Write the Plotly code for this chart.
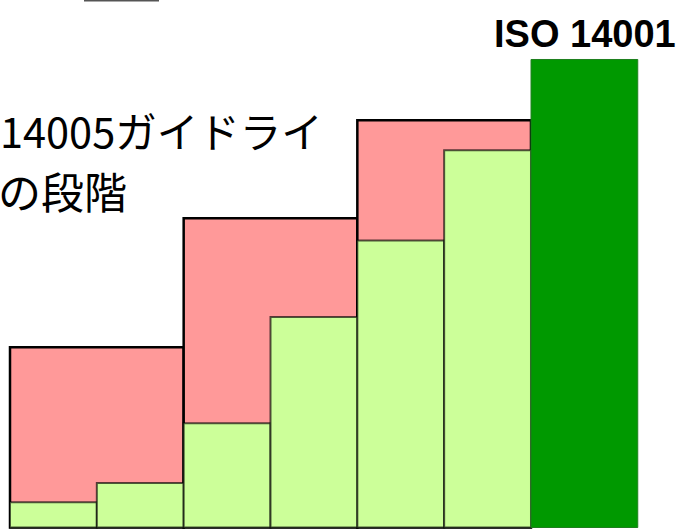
import plotly.graph_objects as go

# ---- data ----
step_x = [0, 1, 2, 3, 4, 5]                      # ISO 14005 phases (light green steps)
step_values = [5.4, 9.5, 22.3, 45.0, 61.3, 80.6]
group_x = [0.5, 2.5, 4.5]                         # grouped stages (red boxes)
group_values = [38.5, 66.1, 87.0]
iso_x = [6.115]
iso_values = [100.0]
iso_label = "ISO 14001"
text_line1 = "14005ガイドライ"
text_line2 = "の段階"

W, H = 676, 529

fig = go.Figure()

fig.add_trace(go.Bar(
    x=group_x, y=group_values, width=[2, 2, 2],
    marker=dict(color="#FF9999", line=dict(color="#000000", width=2.5)),
    hoverinfo="skip", showlegend=False,
))
fig.add_trace(go.Bar(
    x=step_x, y=step_values, width=[1] * len(step_x),
    marker=dict(color="#CCFF99", line=dict(color="rgba(0,0,0,0.65)", width=2)),
    hoverinfo="skip", showlegend=False,
))
fig.add_trace(go.Bar(
    x=iso_x, y=iso_values, width=[1.229],
    marker=dict(color="#009900", line=dict(color="#1E7F1E", width=1)),
    hoverinfo="skip", showlegend=False,
))

fig.add_annotation(
    x=585 / W, y=1 - 33.5 / H, xref="paper", yref="paper",
    text=f"<b>{iso_label}</b>", showarrow=False,
    xanchor="center", yanchor="middle",
    font=dict(family="Liberation Sans, Arial, sans-serif", size=38, color="#000000"),
)
fig.add_annotation(
    x=-2 / W, y=1 - 130 / H, xref="paper", yref="paper",
    text=text_line1, showarrow=False,
    xanchor="left", yanchor="middle",
    font=dict(family="Noto Sans CJK JP", size=41.5, color="#000000"),
)
fig.add_annotation(
    x=-4 / W, y=1 - 190 / H, xref="paper", yref="paper",
    text=text_line2, showarrow=False,
    xanchor="left", yanchor="middle",
    font=dict(family="Noto Sans CJK JP", size=43, color="#000000"),
)

# fragment of an element above the visible area
fig.add_shape(type="line", xref="paper", yref="paper",
              x0=84 / W, x1=159 / W, y0=1 - 0.5 / H, y1=1 - 0.5 / H,
              line=dict(color="#555555", width=2))

fig.update_layout(
    width=W, height=H, autosize=False,
    margin=dict(l=0, r=0, t=0, b=0),
    paper_bgcolor="white", plot_bgcolor="white",
    barmode="overlay",
    xaxis=dict(range=[-0.6152, 7.170], visible=False, fixedrange=True),
    yaxis=dict(range=[-0.32, 112.71], visible=False, fixedrange=True),
)

fig.write_html("out.html", config={"displayModeBar": False},
               post_script="document.body.style.margin='0';")
